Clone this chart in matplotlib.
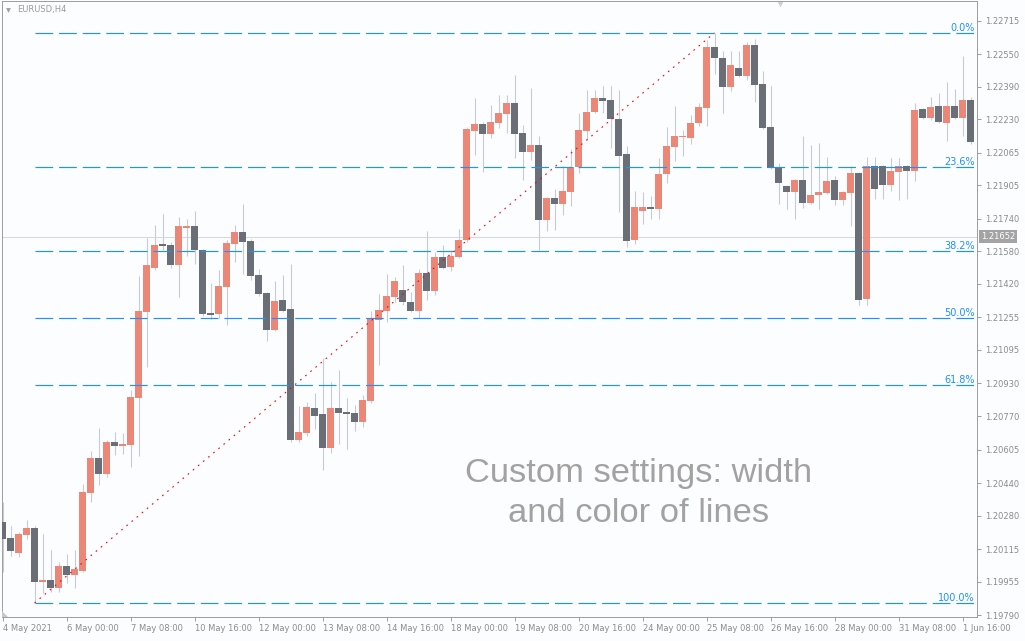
import matplotlib.pyplot as plt
import numpy as np
from matplotlib.patches import Polygon

# EURUSD H4 candles, 4 May 16:00 .. 1 Jun 20:00
opens = [1.20249, 1.20170, 1.20096, 1.20185, 1.20219, 1.19954, 1.19963, 1.19924, 1.20032, 1.19988,
         1.20008, 1.20392, 1.20564, 1.20485, 1.20642, 1.20623, 1.20628, 1.20859, 1.21282, 1.21498,
         1.21617, 1.21612, 1.21513, 1.21695, 1.21705, 1.21587, 1.21277, 1.21272, 1.21405, 1.21617,
         1.21676, 1.21631, 1.21464, 1.21376, 1.21193, 1.21341, 1.21297, 1.20652, 1.20687, 1.20810,
         1.20780, 1.20613, 1.20810, 1.20790, 1.20785, 1.20741, 1.20844, 1.21243, 1.21287, 1.21356,
         1.21390, 1.21331, 1.21287, 1.21474, 1.21385, 1.21553, 1.21503, 1.21553, 1.21636, 1.22172,
         1.22207, 1.22158, 1.22212, 1.22256, 1.22310, 1.22163, 1.22069, 1.22104, 1.21735, 1.21843,
         1.21813, 1.21872, 1.21995, 1.22172, 1.22266, 1.22335, 1.22325, 1.22232, 1.22059, 1.21636,
         1.21779, 1.21799, 1.21789, 1.21961, 1.22094, 1.22143, 1.22138, 1.22212, 1.22286, 1.22586,
         1.22532, 1.22389, 1.22482, 1.22443, 1.22596, 1.22404, 1.22192, 1.21995, 1.21902, 1.21872,
         1.21931, 1.21818, 1.21858, 1.21868, 1.21931, 1.21833, 1.21868, 1.21966, 1.21346, 1.22000,
         1.22000, 1.21907, 1.21971, 1.22000, 1.21976, 1.22281, 1.22236, 1.22295, 1.22212, 1.22295,
         1.22236, 1.22325]
highs = [1.20347, 1.20229, 1.20200, 1.20259, 1.20229, 1.20190, 1.20111, 1.20052, 1.20091, 1.20111,
         1.20436, 1.20598, 1.20711, 1.20652, 1.20692, 1.20687, 1.20898, 1.21459, 1.21646, 1.21710,
         1.21764, 1.21626, 1.21749, 1.21740, 1.21779, 1.21592, 1.21425, 1.21489, 1.21636, 1.21710,
         1.21813, 1.21641, 1.21494, 1.21380, 1.21435, 1.21464, 1.21518, 1.20819, 1.20839, 1.20884,
         1.21056, 1.20938, 1.20997, 1.20859, 1.20824, 1.20874, 1.21287, 1.21371, 1.21469, 1.21454,
         1.21513, 1.21380, 1.21494, 1.21680, 1.21577, 1.21612, 1.21587, 1.21690, 1.22192, 1.22335,
         1.22217, 1.22300, 1.22350, 1.22350, 1.22448, 1.22202, 1.22384, 1.22148, 1.21848, 1.21887,
         1.22000, 1.22084, 1.22261, 1.22374, 1.22374, 1.22394, 1.22394, 1.22374, 1.22099, 1.21877,
         1.21872, 1.21853, 1.22040, 1.22192, 1.22295, 1.22177, 1.22251, 1.22310, 1.22620, 1.22655,
         1.22566, 1.22566, 1.22566, 1.22610, 1.22625, 1.22468, 1.22394, 1.22015, 1.21907, 1.21936,
         1.22148, 1.22104, 1.22113, 1.22045, 1.21951, 1.21877, 1.22000, 1.21971, 1.22045, 1.22045,
         1.22005, 1.22040, 1.22040, 1.22005, 1.22310, 1.22286, 1.22340, 1.22360, 1.22414, 1.22379,
         1.22542, 1.22340]
lows = [1.20003, 1.20082, 1.20077, 1.20165, 1.19850, 1.19900, 1.19904, 1.19904, 1.19949, 1.19924,
        1.20003, 1.20347, 1.20431, 1.20470, 1.20578, 1.20583, 1.20519, 1.20574, 1.21011, 1.21489,
        1.21587, 1.21498, 1.21356, 1.21558, 1.21518, 1.21262, 1.21248, 1.21252, 1.21218, 1.21528,
        1.21469, 1.21439, 1.21361, 1.21139, 1.21188, 1.21282, 1.20642, 1.20642, 1.20672, 1.20706,
        1.20505, 1.20588, 1.20633, 1.20608, 1.20696, 1.20716, 1.20834, 1.21021, 1.21233, 1.21331,
        1.21316, 1.21282, 1.21252, 1.21341, 1.21366, 1.21494, 1.21484, 1.21548, 1.21626, 1.22054,
        1.21971, 1.22138, 1.22187, 1.22163, 1.22040, 1.21931, 1.22030, 1.21587, 1.21680, 1.21685,
        1.21759, 1.21803, 1.21966, 1.22128, 1.22261, 1.22261, 1.22089, 1.21774, 1.21602, 1.21617,
        1.21715, 1.21740, 1.21740, 1.21917, 1.22025, 1.22050, 1.22109, 1.22197, 1.22197, 1.22453,
        1.22261, 1.22369, 1.22438, 1.22423, 1.22315, 1.22182, 1.21985, 1.21813, 1.21789, 1.21740,
        1.21794, 1.21813, 1.21789, 1.21863, 1.21808, 1.21808, 1.21705, 1.21316, 1.21316, 1.21838,
        1.21838, 1.21877, 1.21833, 1.21838, 1.21927, 1.22232, 1.22227, 1.22212, 1.22123, 1.22232,
        1.22148, 1.22109]
closes = [1.20165, 1.20106, 1.20190, 1.20219, 1.19954, 1.19963, 1.19924, 1.20032, 1.19988, 1.20018,
          1.20396, 1.20564, 1.20485, 1.20642, 1.20623, 1.20633, 1.20864, 1.21287, 1.21513, 1.21612,
          1.21607, 1.21513, 1.21705, 1.21705, 1.21587, 1.21272, 1.21267, 1.21410, 1.21621, 1.21676,
          1.21626, 1.21459, 1.21371, 1.21193, 1.21336, 1.21287, 1.20652, 1.20692, 1.20815, 1.20770,
          1.20613, 1.20810, 1.20785, 1.20780, 1.20741, 1.20849, 1.21248, 1.21292, 1.21361, 1.21435,
          1.21331, 1.21287, 1.21474, 1.21385, 1.21553, 1.21498, 1.21558, 1.21636, 1.22182, 1.22207,
          1.22158, 1.22217, 1.22261, 1.22310, 1.22158, 1.22069, 1.22104, 1.21735, 1.21843, 1.21813,
          1.21877, 1.21995, 1.22177, 1.22266, 1.22335, 1.22320, 1.22232, 1.22050, 1.21631, 1.21799,
          1.21799, 1.21789, 1.21961, 1.22099, 1.22148, 1.22148, 1.22212, 1.22291, 1.22586, 1.22532,
          1.22389, 1.22497, 1.22443, 1.22596, 1.22399, 1.22187, 1.21990, 1.21917, 1.21872, 1.21931,
          1.21818, 1.21858, 1.21872, 1.21927, 1.21833, 1.21872, 1.21966, 1.21341, 1.22000, 1.21887,
          1.21907, 1.21976, 1.22000, 1.21976, 1.22276, 1.22236, 1.22291, 1.22217, 1.22295, 1.22236,
          1.22325, 1.22118]

time_labels = ["4 May 2021", "6 May 00:00", "7 May 08:00", "10 May 16:00", "12 May 00:00",
               "13 May 08:00", "14 May 16:00", "18 May 00:00", "19 May 08:00", "20 May 16:00",
               "24 May 00:00", "25 May 08:00", "26 May 16:00", "28 May 00:00", "31 May 08:00",
               "1 Jun 16:00"]
price_ticks = [1.22715, 1.22550, 1.22390, 1.22230, 1.22065, 1.21905, 1.21740, 1.21580, 1.21420,
               1.21255, 1.21095, 1.20930, 1.20770, 1.20605, 1.20440, 1.20280, 1.20115, 1.19955,
               1.19790]
fib_levels = [0.0, 23.6, 38.2, 50.0, 61.8, 100.0]
last_price = 1.21652

W, H = 1025, 641
bg = '#fcfdff'
fig = plt.figure(figsize=(W / 100, H / 100), dpi=100, facecolor=bg)
ax = fig.add_axes([2 / W, 24 / H, 975 / W, 616 / H], facecolor=bg)

o = np.array(opens)
h = np.array(highs)
l = np.array(lows)
c = np.array(closes)
x = np.arange(len(o))
up = c >= o

# candles
ax.vlines(x, l, h, color='#c6cbd6', lw=0.8, zorder=2)
lo = np.minimum(o, c)
hgt = np.maximum(np.abs(c - o), 0.00004)
ax.bar(x[up], hgt[up], bottom=lo[up], width=0.86, color='#ec8777', lw=0, zorder=3)
ax.bar(x[~up], hgt[~up], bottom=lo[~up], width=0.86, color='#6a6e76', lw=0, zorder=3)

ax.set_xlim(-0.0625, 121.81)
ax.set_ylim(1.19781, 1.22812)

# current price line
ax.axhline(last_price, color='#d6d9e0', lw=0.8, zorder=1)
ax.text(1.004, last_price, f'{last_price:.5f}', transform=ax.get_yaxis_transform(),
        ha='left', va='center', fontsize=6, color='white',
        bbox=dict(boxstyle='square,pad=0.25', fc='#a3a3a3', ec='none'))

# fibonacci
i_lo = int(np.argmin(l))
i_hi = int(np.argmax(h))
f_lo, f_hi = l[i_lo], h[i_hi]
for p in fib_levels:
    lvl = f_hi - (f_hi - f_lo) * p / 100
    ax.plot([i_lo, 121.81], [lvl, lvl], color='#1e90ff', lw=0.85, snap=True,
            linestyle=(0, (15, 5)), zorder=4)
    ax.text(0.998, lvl, f'{p:.1f}%', transform=ax.get_yaxis_transform(),
            ha='right', va='bottom', fontsize=7, color='#1e90ff', zorder=5)

ax.plot([i_lo, i_hi], [f_lo, f_hi], color='#ff0000', lw=0.8,
        linestyle=(0, (1.5, 4.5)), zorder=5)

# axes look
for s in ax.spines.values():
    s.set_color('#a0a0a0')
    s.set_linewidth(0.72)
ax.yaxis.tick_right()
ax.set_yticks(price_ticks)
ax.set_yticklabels([f'{v:.5f}' for v in price_ticks])
ax.set_xticks(x[::8])
ax.set_xticklabels(time_labels)
for t in ax.get_xticklabels():
    t.set_horizontalalignment('left')
ax.tick_params(axis='both', direction='out', length=3, width=0.72, color='#a0a0a0',
               labelsize=6, labelcolor='#8c8c8c')
ax.tick_params(axis='y', pad=2.5)
ax.tick_params(axis='x', pad=2)

# header and small marks
fig.text(17 / W, 1 - 9.5 / H, 'EURUSD,H4', fontsize=6, color='#9b9b9b', ha='left', va='center')
ax.plot([8 / W], [1 - 10 / H], marker='v', ms=3.5, color='#a0a0a0', mec='none',
        transform=fig.transFigure, clip_on=False)
ax.plot([780 / W], [1 - 4 / H], marker='v', ms=5, color='#cfd0d4', mec='none',
        transform=fig.transFigure, clip_on=False)
fig.patches.append(Polygon([[2 / W, 1 - 617 / H], [8 / W, 1 - 617 / H], [2 / W, 1 - 611 / H]],
                           closed=True, fc='#c8c8c8', ec='none', transform=fig.transFigure))

fig.text(639 / W, 1 - 482 / H, 'Custom settings: width', ha='center', va='baseline',
         fontsize=24.8, family='Liberation Sans', color='#a2a2a2')
fig.text(639 / W, 1 - 522 / H, 'and color of lines', ha='center', va='baseline',
         fontsize=24.8, family='Liberation Sans', color='#a2a2a2')

fig.savefig('out.png', dpi=100, facecolor=bg)
